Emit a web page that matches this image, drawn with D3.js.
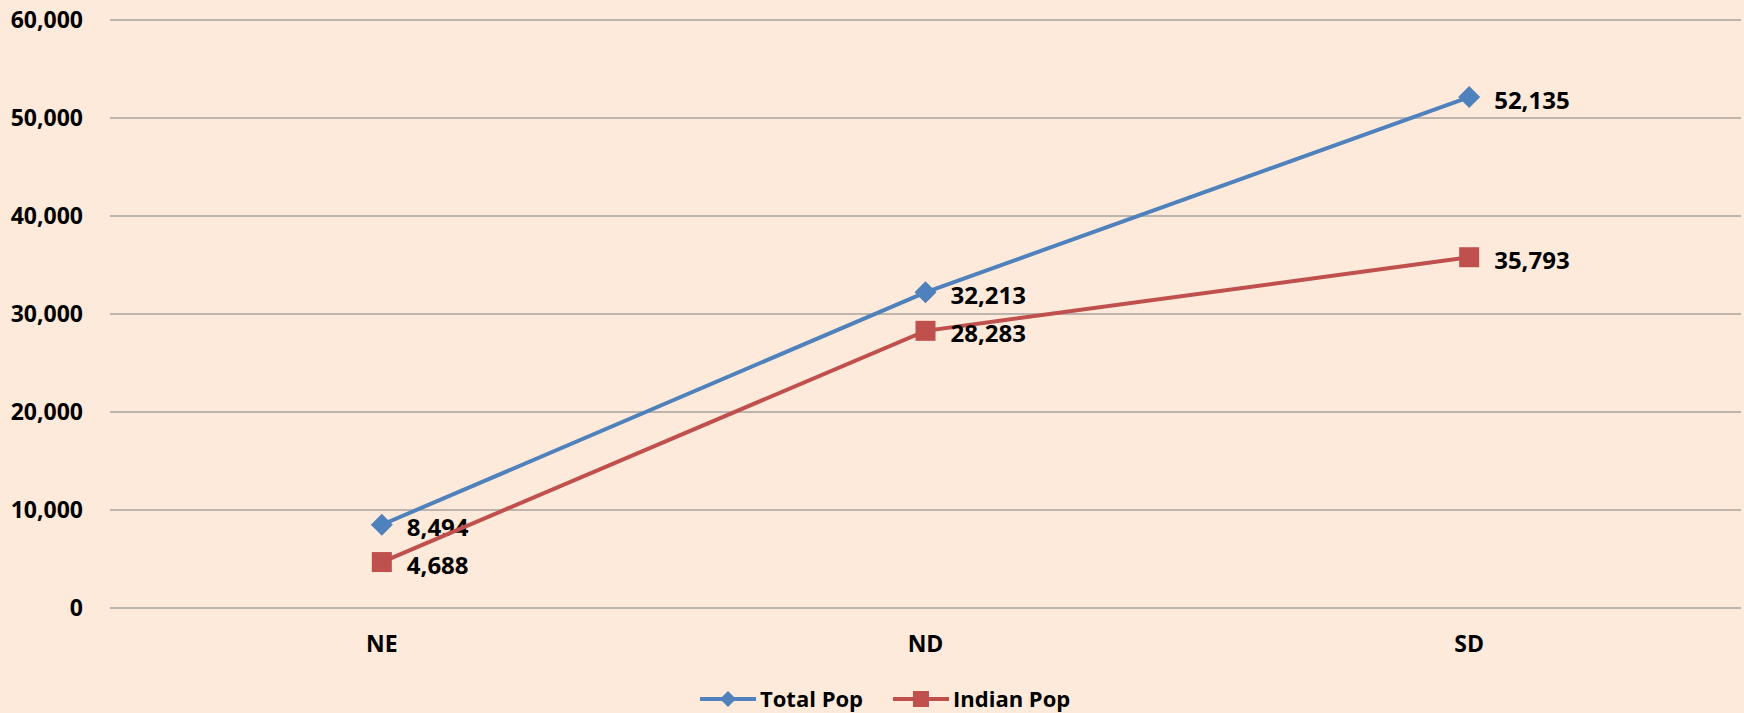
<!DOCTYPE html>
<html>
<head>
<meta charset="utf-8">
<script src="https://cdn.jsdelivr.net/npm/d3@7"></script>
<style>
  html, body { margin: 0; padding: 0; background: #FDEADA; }
  svg { display: block; }
  text { font-family: "Open Sans", sans-serif; font-weight: bold; fill: #000; }
</style>
</head>
<body>
<svg id="chart" width="1744" height="713"></svg>
<script>
const categories = ["NE", "ND", "SD"];
const totalPop = [8494, 32213, 52135];
const indianPop = [4688, 28283, 35793];
const yTicks = [0, 10000, 20000, 30000, 40000, 50000, 60000];

const width = 1744, height = 713;
const margin = { left: 110, right: 3, top: 20, bottom: 105 };

const svg = d3.select("#chart");

svg.append("rect").attr("width", width).attr("height", height).attr("fill", "#FDEADA");

const x = d3.scaleBand()
    .domain(categories)
    .range([margin.left, width - margin.right]);

const y = d3.scaleLinear()
    .domain([0, 60000])
    .range([height - margin.bottom, margin.top]);

const fmt = d3.format(",");

// gridlines
svg.append("g")
  .selectAll("line")
  .data(yTicks)
  .join("line")
    .attr("x1", margin.left)
    .attr("x2", width - margin.right)
    .attr("y1", d => y(d))
    .attr("y2", d => y(d))
    .attr("stroke", "#A6A29E")
    .attr("stroke-width", 1.5);

// y labels
svg.append("g")
  .selectAll("text")
  .data(yTicks)
  .join("text")
    .attr("x", 83)
    .attr("y", d => y(d))
    .attr("dy", "0.36em")
    .attr("text-anchor", "end")
    .style("font-size", "23px")
    .text(d => fmt(d));

// x labels
svg.append("g")
  .selectAll("text")
  .data(categories)
  .join("text")
    .attr("x", d => x(d) + x.bandwidth() / 2)
    .attr("y", 652)
    .attr("text-anchor", "middle")
    .style("font-size", "23px")
    .text(d => d);

const cx = d => x(d) + x.bandwidth() / 2;

const series = [
  { name: "Total Pop", values: totalPop, color: "#4F81BD", shape: "diamond" },
  { name: "Indian Pop", values: indianPop, color: "#C0504D", shape: "square" }
];

function drawMarker(g, shape, color, px, py) {
  if (shape === "diamond") {
    g.append("path")
      .attr("d", `M${px},${py - 11}L${px + 11},${py}L${px},${py + 11}L${px - 11},${py}Z`)
      .attr("fill", color);
  } else {
    g.append("rect")
      .attr("x", px - 10).attr("y", py - 10)
      .attr("width", 20).attr("height", 20)
      .attr("fill", color);
  }
}

const line = d3.line()
  .x((d, i) => cx(categories[i]))
  .y(d => y(d));

series.forEach(s => {
  const g = svg.append("g");
  g.append("path")
    .datum(s.values)
    .attr("d", line)
    .attr("fill", "none")
    .attr("stroke", s.color)
    .attr("stroke-width", 4);
  s.values.forEach((v, i) => {
    drawMarker(g, s.shape, s.color, cx(categories[i]), y(v));
  });
  g.selectAll("text.lbl")
    .data(s.values)
    .join("text")
      .attr("class", "lbl")
      .attr("x", (d, i) => cx(categories[i]) + 25)
      .attr("y", d => y(d) + 3)
      .attr("dy", "0.36em")
      .style("font-size", "24px")
      .text(d => fmt(d));
});

// legend
const legendItems = [
  { s: series[0], x0: 700, tx: 760 },
  { s: series[1], x0: 893, tx: 953 }
];
const ly = 699;
legendItems.forEach(it => {
  const g = svg.append("g");
  g.append("line")
    .attr("x1", it.x0).attr("x2", it.x0 + 56)
    .attr("y1", ly).attr("y2", ly)
    .attr("stroke", it.s.color)
    .attr("stroke-width", 4);
  if (it.s.shape === "diamond") {
    const px = it.x0 + 28;
    g.append("path")
      .attr("d", `M${px},${ly - 8}L${px + 8},${ly}L${px},${ly + 8}L${px - 8},${ly}Z`)
      .attr("fill", it.s.color);
  } else {
    g.append("rect")
      .attr("x", it.x0 + 28 - 8).attr("y", ly - 8)
      .attr("width", 16).attr("height", 16)
      .attr("fill", it.s.color);
  }
  g.append("text")
    .attr("x", it.tx)
    .attr("y", ly)
    .attr("dy", "0.36em")
    .style("font-size", "22px")
    .text(it.s.name);
});
</script>
</body>
</html>
